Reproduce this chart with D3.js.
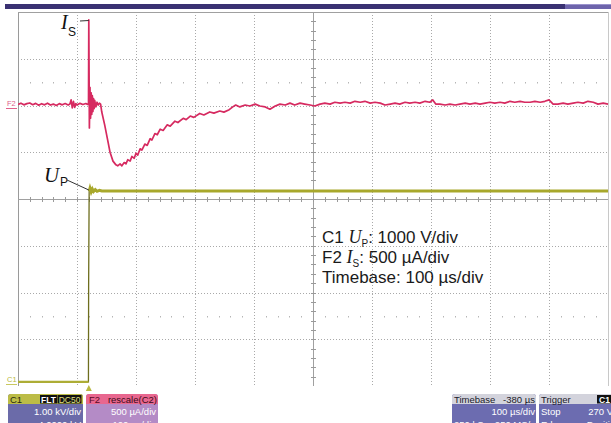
<!DOCTYPE html>
<html><head><meta charset="utf-8">
<script src="https://cdn.jsdelivr.net/npm/d3@7"></script>
<style>html,body{margin:0;padding:0;background:#fff;overflow:hidden}svg{display:block}</style>
</head><body>
<svg id="c" width="611" height="423"></svg>
<script>
// ---------- data ----------
const gridTimesUs = [0,100,200,300,400,500,600,700,800,900,1000];
const gridDivs = [-4,-3,-2,-1,0,1,2,3,4];

// F2: Is current (µA) vs time (µs)
const f2TimeUs = [
  0,5,10,15,20,25,30,35,40,45,
  50,55,60,65,70,75,80,85,88,90,
  92,94,96,98,100,105,110,115,118,119.5,
  120,121,122,123,124,125,126,127,128,129,
  130,132,134,136,138,140,142,147,152,156,
  161,166,169,173,176,180,183,186,190,193,
  197,200,203,207,210,215,219,224,227,232,
  236,241,246,253,258,266,271,280,285,292,
  298,308,315,325,332,342,349,358,364,369,
  376,385,393,402,410,419,427,436,444,453,
  461,469,478,486,495,503,512,520,529,537,
  546,554,563,571,580,588,597,605,614,622,
  631,639,647,656,664,673,681,690,698,703,
  708,715,724,732,741,749,758,766,775,783,
  792,800,808,817,825,834,842,851,859,868,
  876,885,893,900,907,915,924,932,941,949,
  958,966,975,983,992,1000];
const f2CurrentUA = [
  -5,10,-8,5,12,-6,8,-12,4,-8,
  10,-10,0,-15,5,-8,6,-10,0,45,
  -40,30,-35,5,-10,8,-5,6,-4,10,
  900,-255,180,-150,120,-110,90,-80,60,-50,
  40,-30,20,-10,10,0,-85,-225,-385,-515,
  -610,-650,-660,-640,-660,-625,-640,-595,-610,-560,
  -580,-525,-545,-478,-492,-428,-442,-370,-384,-315,
  -328,-268,-282,-222,-236,-183,-197,-152,-166,-128,
  -142,-100,-116,-84,-97,-74,-86,-60,-30,-10,
  -30,-10,-20,0,-20,-30,-55,-20,0,-10,
  10,-10,10,0,-10,-20,0,10,0,20,
  10,20,10,30,20,30,10,20,10,-10,
  0,10,0,20,10,20,10,30,20,45,
  0,0,-10,0,-10,0,10,0,10,0,
  10,20,10,20,10,30,20,30,20,20,
  30,20,30,45,0,0,10,0,10,20,
  10,30,20,0,10,0];

// C1: Up voltage (V) vs time (µs)
const c1TimeUs = [0,119.4,119.7,120.6,122,124,126,128,131,134,138,142,1000];
const c1Volts  = [0,0,2030,4080,4140,4060,4120,4070,4110,4075,4095,4080,4080];

const f2OffsetDiv = 2.03, f2UAperDiv = 500;
const c1OffsetDiv = -3.91, c1VperDiv = 1000;

// ---------- scales ----------
const svg = d3.select('#c');
const x = d3.scaleLinear().domain([0,1000]).range([18,608]);
const y = d3.scaleLinear().domain([-4,4]).range([386,12]);
const GRID = '#a9a9a9';

// top bar
svg.append('rect').attr('x',5).attr('y',4).attr('width',560).attr('height',5).attr('fill','#3a3172');
svg.append('rect').attr('x',565).attr('y',4).attr('width',46).attr('height',5).attr('fill','#6d64ab');
svg.append('rect').attr('x',565).attr('y',4).attr('width',46).attr('height',1).attr('fill','#9a92cc');

// grid
const g = svg.append('g');
gridTimesUs.slice(1,-1).forEach(t => {
  if (t === 500) return;
  g.append('line').attr('x1',x(t)+0.5).attr('x2',x(t)+0.5).attr('y1',y(4)).attr('y2',y(-4))
   .attr('stroke',GRID).attr('stroke-dasharray','1,2');
});
gridDivs.slice(1,-1).forEach(d => {
  if (d === 0) return;
  g.append('line').attr('x1',x(0)).attr('x2',x(1000)).attr('y1',Math.round(y(d))+0.5).attr('y2',Math.round(y(d))+0.5)
   .attr('stroke',GRID).attr('stroke-dasharray','1,2');
});
// borders
g.append('line').attr('x1',x(0)+0.5).attr('x2',x(0)+0.5).attr('y1',y(4)).attr('y2',y(-4)).attr('stroke','#9a9a9a');
g.append('line').attr('x1',x(1000)+0.5).attr('x2',x(1000)+0.5).attr('y1',y(4)).attr('y2',y(-4)).attr('stroke','#c8c8c8');
g.append('line').attr('x1',x(0)).attr('x2',x(1000)).attr('y1',y(4)+0.5).attr('y2',y(4)+0.5).attr('stroke','#a0a0a0');
// center axes
const cy = Math.round(y(0))+0.5, cx = Math.round(x(500))+0.5;
g.append('line').attr('x1',x(0)).attr('x2',x(1000)).attr('y1',cy).attr('y2',cy).attr('stroke','#a0a0a0');
g.append('line').attr('x1',cx).attr('x2',cx).attr('y1',y(4)).attr('y2',y(-4)).attr('stroke','#a0a0a0');
const minorT = d3.range(20,1000,20);
minorT.forEach(t => {
  g.append('line').attr('x1',Math.round(x(t))+0.5).attr('x2',Math.round(x(t))+0.5).attr('y1',cy-2.5).attr('y2',cy+2.5).attr('stroke','#9a9a9a');
  if (t % 100 !== 0) {
    [2.5,-2.5].forEach(d => g.append('rect').attr('x',Math.round(x(t))).attr('y',Math.round(y(d))).attr('width',1).attr('height',1.5).attr('fill','#b5b5b5'));
  }
});
const minorD = d3.range(-3.8,3.81,0.2);
minorD.forEach(d => {
  g.append('line').attr('x1',cx-2.5).attr('x2',cx+2.5).attr('y1',Math.round(y(d))+0.5).attr('y2',Math.round(y(d))+0.5).attr('stroke','#9a9a9a');
});

// ---------- traces ----------
svg.append('clipPath').attr('id','plot').append('rect').attr('x',18).attr('y',12).attr('width',591).attr('height',376);
const tr = svg.append('g').attr('clip-path','url(#plot)');

const f2Pts = f2TimeUs.map((t,i) => [x(t), y(f2OffsetDiv + f2CurrentUA[i]/f2UAperDiv)]);
const line = d3.line();
tr.append('path').attr('d',line(f2Pts)).attr('fill','none').attr('stroke','#d62a60').attr('stroke-width',1.7).attr('stroke-linejoin','round');

const c1Pts = c1TimeUs.map((t,i) => ({t, p:[x(t), y(c1OffsetDiv + c1Volts[i]/c1VperDiv)]}));
tr.append('path').attr('d',line(c1Pts.map(d=>d.p))).attr('fill','none').attr('stroke','#6e6e1e').attr('stroke-width',1.3);
tr.append('path').attr('d',line(c1Pts.filter(d=>d.t<=119.4).map(d=>d.p))).attr('fill','none').attr('stroke','#adad35').attr('stroke-width',2.2);
tr.append('path').attr('d',line(c1Pts.filter(d=>d.t>=120.6).map(d=>d.p))).attr('fill','none').attr('stroke','#a8a82c').attr('stroke-width',3);

// channel markers
svg.append('text').attr('x',7).attr('y',106).attr('font-family','Liberation Sans, Arial, sans-serif').attr('font-size',7.5).attr('fill','#e0608a').text('F2');
svg.append('line').attr('x1',6).attr('x2',17).attr('y1',108.5).attr('y2',108.5).attr('stroke','#e0608a');
svg.append('text').attr('x',7).attr('y',382).attr('font-family','Liberation Sans, Arial, sans-serif').attr('font-size',7.5).attr('fill','#b8b840').text('C1');
svg.append('line').attr('x1',6).attr('x2',17).attr('y1',384.5).attr('y2',384.5).attr('stroke','#c8c860');
// trigger marker
const tx = x(120);
svg.append('path').attr('d',`M${tx-3},391 L${tx+3},391 L${tx},385 Z`).attr('fill','#b8b840');

// ---------- annotations ----------
const SERIF = 'Liberation Serif, Times New Roman, serif';
const SANS = 'Liberation Sans, Arial, sans-serif';
svg.append('text').attr('x',61).attr('y',29).attr('font-family',SERIF).attr('font-style','italic').attr('font-size',20).attr('fill','#111').text('I');
svg.append('text').attr('x',68).attr('y',36).attr('font-family',SANS).attr('font-size',12).attr('fill','#111').text('S');
svg.append('line').attr('x1',80).attr('x2',x(120)).attr('y1',21).attr('y2',20.5).attr('stroke','#333');

svg.append('text').attr('x',44).attr('y',182).attr('font-family',SERIF).attr('font-style','italic').attr('font-size',21).attr('fill','#111').text('U');
svg.append('text').attr('x',60).attr('y',186).attr('font-family',SANS).attr('font-size',12).attr('fill','#111').text('P');
svg.append('line').attr('x1',67).attr('x2',x(120)).attr('y1',180).attr('y2',190).attr('stroke','#333');

const legendLines = [
  ['C1 ','U','P',': 1000 V/div'],
  ['F2 ','I','S',': 500 µA/div'],
  ['Timebase: 100 µs/div','','','']
];
legendLines.forEach((l,i) => {
  const t = svg.append('text').attr('x',322).attr('y',243+i*20).attr('font-family',SANS).attr('font-size',17).attr('fill','#1a1a1a');
  t.append('tspan').text(l[0]);
  if (l[1]) {
    t.append('tspan').attr('font-family',SERIF).attr('font-style','italic').attr('font-size',18).text(l[1]);
    t.append('tspan').attr('font-size',10).attr('dy',4).text(l[2]);
    t.append('tspan').attr('dy',-4).text(l[3]);
  }
});

// ---------- info boxes ----------
function box(x0, w, head, body) {
  const b = svg.append('g');
  b.append('rect').attr('x',x0).attr('y',394).attr('width',w).attr('height',40).attr('rx',3).attr('fill',body);
  b.append('path').attr('d',`M${x0},404 L${x0},397 Q${x0},394 ${x0+3},394 L${x0+w-3},394 Q${x0+w},394 ${x0+w},397 L${x0+w},404 Z`).attr('fill',head);
  return b;
}
function txt(x0,y0,s,fill,anchor){
  svg.append('text').attr('x',x0).attr('y',y0).attr('font-family',SANS).attr('font-size',9.5)
    .attr('fill',fill).attr('text-anchor',anchor||'start').text(s);
}
box(8,75,'#bcbc46','#6b6ba9');
txt(10,403,'C1','#2a2a10');
svg.append('rect').attr('x',40).attr('y',395).attr('width',17).attr('height',8.5).attr('fill','#111');
svg.append('rect').attr('x',57.5).attr('y',395).attr('width',24).attr('height',8.5).attr('fill','#111');
svg.append('text').attr('x',48.5).attr('y',402.5).attr('font-family',SANS).attr('font-size',8.5).attr('font-weight','bold').attr('fill','#fff').attr('text-anchor','middle').text('FLT');
svg.append('text').attr('x',69.5).attr('y',402.5).attr('font-family',SANS).attr('font-size',8.5).attr('fill','#e0e080').attr('text-anchor','middle').text('DC50');
txt(81,415,'1.00 kV/div','#fff','end');
txt(81,428,'4.0000 kV','#fff','end');

box(86,72,'#e8678f','#b48bc6');
txt(89,403,'F2','#5a0a25');
txt(157,403,'rescale(C2)','#3a0a18','end');
txt(156,415,'500 µA/div','#fff','end');
txt(156,428,'100 µs/div','#fff','end');

box(452,84,'#d3d3dc','#6c6cb0');
txt(454,403,'Timebase','#1a1a2a');
txt(535,403,'-380 µs','#1a1a2a','end');
txt(535,415,'100 µs/div','#fff','end');
txt(454,428,'250 kS','#fff');
txt(535,428,'250 MS/s','#fff','end');

box(539,80,'#d3d3dc','#6c6cb0');
txt(541,403,'Trigger','#1a1a2a');
svg.append('rect').attr('x',597).attr('y',395).attr('width',16).attr('height',8.5).attr('fill','#111');
svg.append('text').attr('x',599).attr('y',402.5).attr('font-family',SANS).attr('font-size',8.5).attr('font-weight','bold').attr('fill','#fff').text('C1');
txt(541,415,'Stop','#fff');
txt(613,415,'270 V','#fff','end');
txt(541,428,'Edge','#fff');
txt(620,428,'Positive','#fff','end');
</script>
</body></html>
